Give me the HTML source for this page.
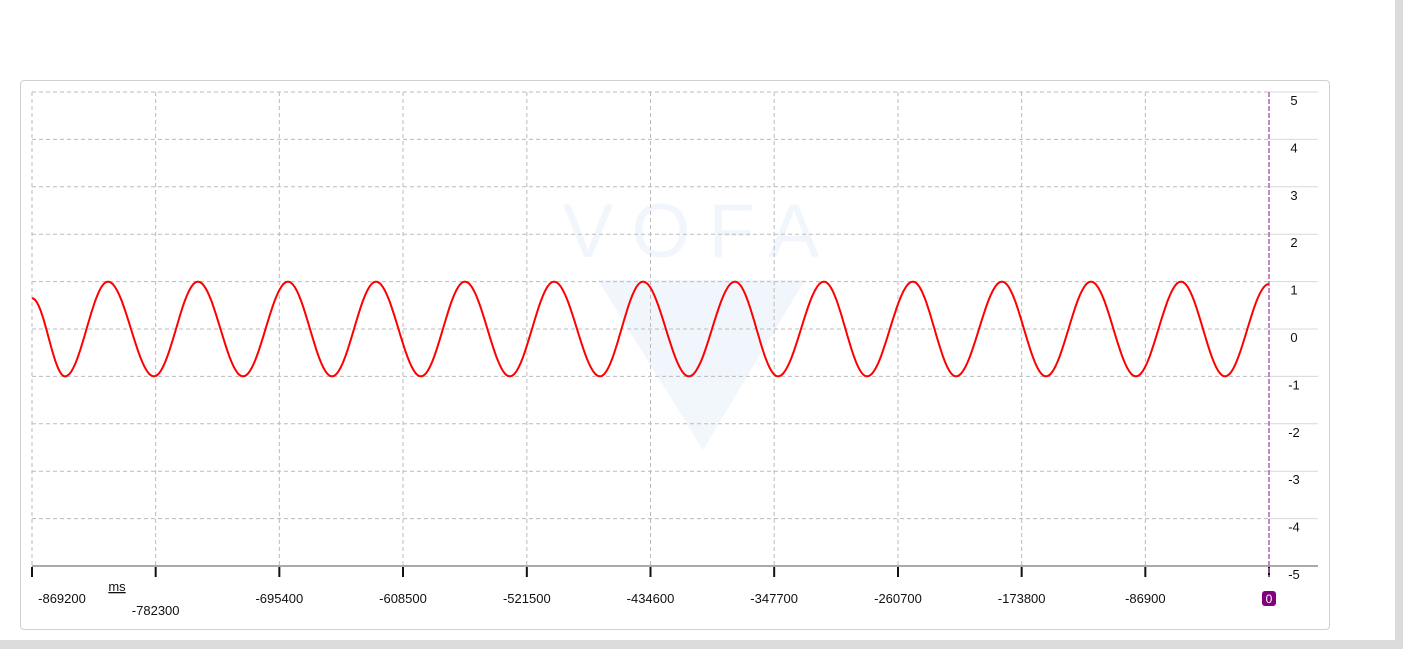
<!DOCTYPE html>
<html><head><meta charset="utf-8"><style>
body{margin:0;width:1403px;height:649px;background:#fff;overflow:hidden;position:relative;font-family:"Liberation Sans",sans-serif}
</style></head><body>
<div style="position:absolute;left:1395px;top:0;width:8px;height:649px;background:#dcdcdc"></div>
<div style="position:absolute;left:0;top:640px;width:1395px;height:9px;background:#dcdcdc"></div>
<div style="position:absolute;left:20px;top:80px;width:1308px;height:548px;border:1px solid #d0d0d0;border-radius:4px"></div>
<svg id="chart" width="1403" height="649" style="position:absolute;left:0;top:0">
<g opacity="0.06">
<text x="700" y="257" text-anchor="middle" font-size="76" fill="#1a6fd0" letter-spacing="18" font-family="Liberation Sans,sans-serif">VOFA</text>
<polygon points="598,280 805,280 703,450" fill="#1a6fd0"/>
</g>
<g id="grid"></g><g id="axes"></g><path id="line" fill="none" stroke="#f00" stroke-width="2"/>
</svg>
<script>
const xTicks=[-869200,-782300,-695400,-608500,-521500,-434600,-347700,-260700,-173800,-86900,0];
const yTicks=[5,4,3,2,1,0,-1,-2,-3,-4,-5];
const seriesT=[-869200,-846000,-815800,-783500,-752600,-720900,-689300,-658400,-627500,-595900,-565000,-533400,-502400,-470100,-439900,-407600,-375200,-345000,-312700,-282500,-250200,-219900,-187600,-156700,-125100,-93500,-61800,-30900,0];
const seriesV=[0.65,-1,1,-1,1,-1,1,-1,1,-1,1,-1,1,-1,1,-1,1,-1,1,-1,1,-1,1,-1,1,-1,1,-1,0.95];
const X0=32,X1=1269,Y0=92,Y1=566;
const xs=t=>X0+(t+869200)/869200*(X1-X0);
const ys=v=>Y0+(5-v)/10*(Y1-Y0);
const NS='http://www.w3.org/2000/svg';
const g=document.getElementById('grid'),ax=document.getElementById('axes');
function mk(tag,a,p){const e=document.createElementNS(NS,tag);for(const k in a)e.setAttribute(k,a[k]);p.appendChild(e);return e;}
yTicks.forEach(v=>{const y=ys(v);
 const l=mk('line',{x1:X0,x2:X1,y1:y,y2:y,stroke:'#bbb','stroke-dasharray':'4,3'},g);
 
 
 const l2=mk('line',{x1:X1,x2:1318,y1:y,y2:y,stroke:'#d8d8d8'},g);
 
 
 const t=mk('text',{x:1294,y:y+13,'text-anchor':'middle','font-size':13,fill:'#111'},ax);t.textContent=v;
 
 
});
xTicks.forEach((v,i)=>{const x=xs(v);
 if(i<xTicks.length-1){const l=mk('line',{x1:x,x2:x,y1:Y0,y2:Y1,stroke:'#bbb','stroke-dasharray':'4,3'},g);
 
 }
 const tk=mk('line',{x1:x,x2:x,y1:Y1+1,y2:Y1+11,stroke:'#111','stroke-width':2},ax);
 
 
 if(i<xTicks.length-1){const t=mk('text',{x:i==0?x+30:x,y:i==1?615:603,'text-anchor':'middle','font-size':13,fill:'#111'},ax);t.textContent=v;
 
 }
});
const base=mk('line',{x1:X0,x2:1318,y1:Y1,y2:Y1,stroke:'#555'},ax);


const cur=mk('line',{x1:X1,x2:X1,y1:Y0,y2:Y1+11,stroke:'#b060b0','stroke-width':1.5,'stroke-dasharray':'5,2'},ax);


const zb=mk('rect',{x:X1-7,y:591,width:14,height:15,rx:3,fill:'#800080'},ax);


const zt=mk('text',{x:X1,y:603,'text-anchor':'middle','font-size':12,fill:'#fff'},ax);zt.textContent='0';


const unit=mk('text',{x:117,y:591,'text-anchor':'middle','font-size':13,fill:'#111','text-decoration':'underline'},ax);unit.textContent='ms';


let d='';
for(let i=0;i<seriesT.length-1;i++){
 const ta=seriesT[i],tb=seriesT[i+1],va=seriesV[i],vb=seriesV[i+1];
 for(let k=0;k<=20;k++){const f=k/20,w=(1-Math.cos(Math.PI*f))/2;
  const x=xs(ta+(tb-ta)*f),y=ys(va+(vb-va)*w);
  d+=(d?'L':'M')+x.toFixed(1)+','+y.toFixed(1);}
}
document.getElementById('line').setAttribute('d',d);
</script>
</body></html>
